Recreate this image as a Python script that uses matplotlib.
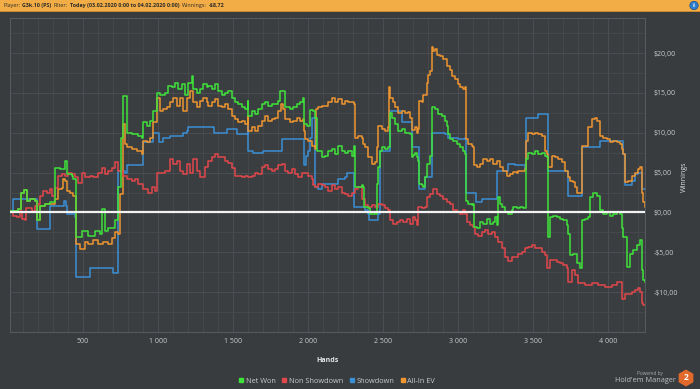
import matplotlib
matplotlib.use("Agg")
import matplotlib.pyplot as plt
from matplotlib import font_manager
from matplotlib.patches import Rectangle, Circle, RegularPolygon
from matplotlib.lines import Line2D
from matplotlib.ticker import MultipleLocator, FuncFormatter

plt.rcParams['font.family'] = ['Open Sans', 'DejaVu Sans']

# ---- data (hand number, cumulative winnings in $) ----
net_won_x = [13, 69, 87, 109, 124, 147, 180, 196, 213, 247, 280, 313, 347, 380, 391, 424, 436, 451, 491, 536,
             580, 613, 624, 647, 669, 691, 713, 736, 753, 769, 791, 824, 869, 891, 902, 924, 947, 969, 991, 1013,
             1047, 1069, 1091, 1113, 1136, 1158, 1180, 1202, 1224, 1236, 1258, 1280, 1302, 1324, 1336, 1358, 1380,
             1402, 1424, 1447, 1469, 1491, 1513, 1536, 1558, 1580, 1598, 1602, 1624, 1647, 1669, 1691, 1713, 1736,
             1758, 1802, 1813, 1847, 1880, 1902, 1924, 1947, 1969, 1976, 1991, 2013, 2036, 2047, 2058, 2091, 2113,
             2136, 2158, 2180, 2202, 2224, 2247, 2269, 2291, 2309, 2313, 2358, 2369, 2376, 2402, 2413, 2458, 2469,
             2480, 2491, 2513, 2536, 2547, 2558, 2580, 2602, 2624, 2647, 2669, 2680, 2691, 2702, 2713, 2724, 2736,
             2740, 2758, 2769, 2780, 2791, 2813, 2824, 2847, 2869, 2891, 2913, 2924, 2936, 2947, 2969, 2991, 3013,
             3036, 3047, 3051, 3069, 3091, 3102, 3109, 3124, 3147, 3169, 3191, 3213, 3236, 3247, 3258, 3264, 3280,
             3291, 3313, 3336, 3358, 3369, 3391, 3413, 3436, 3451, 3469, 3491, 3513, 3536, 3558, 3580, 3591, 3598,
             3613, 3636, 3658, 3680, 3702, 3724, 3736, 3747, 3769, 3791, 3813, 3824, 3847, 3869, 3880, 3902, 3924,
             3947, 3969, 3991, 4013, 4036, 4058, 4080, 4091, 4102, 4124, 4147, 4169, 4191, 4213, 4224, 4236, 4247]
net_won_y = [0.2, 0.4, 2.5, 2.8, 1.5, 1.7, 1.5, -1.0, 0.8, 1.0, 1.25, 5.6, 5.4, 6.5, 4.8, 4.6, 4.2, -3.1, -2.3, -2.9,
             -2.3, -2.7, 0.4, -2.3, -2.0, -1.9, -1.0, 3.2, 9.4, 14.6, 10.0, 9.8, 9.6, 9.4, 11.3, 10.9, 11.5, 12.75, 15.0, 14.8,
             15.0, 15.9, 15.7, 16.3, 15.5, 16.1, 14.8, 16.3, 17.1, 15.5, 15.0, 15.5, 16.1, 15.7, 15.9, 15.5, 16.1,
             15.25, 14.8, 15.0, 15.25, 14.4, 13.8, 13.6, 13.2, 13.0, 14.0, 12.1, 12.75, 12.3, 13.0, 13.6, 13.8, 13.4,
             13.6, 14.0, 15.25, 13.2, 13.0, 13.2, 13.6, 13.8, 14.4, 11.1, 10.9, 12.9, 12.75, 11.9, 7.75, 6.9, 7.1,
             7.75, 8.0, 7.3, 8.4, 7.75, 7.5, 7.75, 7.1, 8.4, 3.2, 3.4, 3.2, 0.7, 0.5, -0.2, 3.6, 5.7,
             7.75, 8.2, 8.0, 8.2, 12.5, 11.9, 11.1, 10.25, 10.5, 10.0, 10.0, 9.8, 7.0, 7.2, 7.5, 6.9, 6.5,
             3.6, 3.4, 3.2, 4.4, 6.1, 7.1, 13.2, 13.0, 12.3, 12.1, 11.5, 10.9, 9.8, 9.2, 9.0, 8.6, 8.2,
             7.75, 7.3, 1.5, 1.1, 0.9, 1.1, -1.8, -2.0, -1.2, -1.4, -0.8, -1.4, -1.2, -0.6, -1.6, 1.9, 1.1,
             0.7, 0.1, -0.2, 0.25, 0.7, 0.5, 0.7, 0.5, 6.7, 7.5, 7.3, 7.75, 7.3, 7.5, 7.1, 6.9, -3.1,
             -0.6, -0.4, -0.6, -0.8, -1.0, -1.6, -2.7, -5.4, -5.2, -6.4, -7.0, -1.0, -0.8, -0.6, 1.9, 2.5, 2.1,
             0.25, -0.2, 0.0, -0.4, -0.2, 0.0, -0.2, -2.0, -3.1, -6.8, -5.2, -4.75, -4.1, -3.5, -7.25, -8.5, -8.7]

non_showdown_x = [13, 36, 58, 80, 91, 113, 118, 158, 180, 202, 213, 236, 258, 280, 291, 313, 336, 358, 380, 402,
                  424, 447, 469, 491, 513, 547, 569, 602, 624, 647, 669, 691, 713, 736, 769, 791, 824, 847, 869,
                  902, 936, 958, 980, 991, 1047, 1080, 1102, 1124, 1147, 1169, 1191, 1213, 1236, 1258, 1280, 1313,
                  1336, 1358, 1380, 1402, 1424, 1447, 1469, 1491, 1513, 1558, 1580, 1602, 1624, 1647, 1669, 1691,
                  1713, 1736, 1758, 1780, 1802, 1824, 1847, 1869, 1891, 1913, 1936, 1958, 1980, 2002, 2024, 2036,
                  2047, 2069, 2091, 2113, 2136, 2158, 2180, 2202, 2224, 2247, 2269, 2291, 2313, 2336, 2358, 2380,
                  2402, 2424, 2447, 2469, 2491, 2513, 2536, 2547, 2569, 2591, 2613, 2636, 2658, 2680, 2702, 2713,
                  2724, 2736, 2758, 2780, 2791, 2813, 2836, 2858, 2880, 2902, 2924, 2947, 2969, 2991, 3013, 3036,
                  3047, 3058, 3080, 3102, 3113, 3136, 3158, 3180, 3202, 3224, 3247, 3269, 3291, 3313, 3336, 3358,
                  3402, 3424, 3447, 3469, 3491, 3513, 3558, 3580, 3591, 3613, 3658, 3680, 3702, 3724, 3736, 3758,
                  3780, 3802, 3847, 3891, 3936, 3980, 4024, 4058, 4091, 4113, 4158, 4180, 4202, 4213, 4224, 4236, 4247]
non_showdown_y = [0.0, -0.4, -0.6, 0.2, -0.8, -1.0, 0.6, 0.2, 0.8, 1.0, 2.1, 2.7, 2.5, 2.9, 2.1, 3.1, 4.6, 4.8, 4.6, 5.0,
                  4.8, 4.4, 3.75, 5.0, 4.4, 4.6, 4.4, 5.0, 5.6, 4.8, 5.2, 5.6, 6.3, 5.25, 4.6, 4.2, 4.0, 4.2, 3.6,
                  3.0, 2.5, 3.2, 2.75, 5.0, 5.25, 6.7, 6.1, 6.5, 5.25, 4.8, 6.1, 5.0, 6.7, 5.25, 4.4, 5.7,
                  6.5, 6.9, 7.3, 7.0, 6.9, 6.5, 6.2, 5.6, 4.6, 4.4, 4.6, 4.4, 4.6, 5.0, 4.8, 5.7,
                  5.9, 5.5, 5.25, 5.5, 5.9, 6.1, 5.25, 5.0, 5.5, 4.8, 4.4, 5.0, 5.0, 4.6, 4.2, 3.4,
                  3.2, 3.6, 3.4, 3.2, 2.75, 3.4, 3.0, 3.2, 2.5, 2.3, 2.1, 2.5, 3.0, 3.2, 1.7, 0.9,
                  0.7, 0.9, 0.7, 1.1, 0.9, 0.5, 0.25, -1.0, -1.4, -1.2, -1.0, -1.2, -0.8, -1.4, -0.6, -1.0,
                  -1.6, 0.7, 0.5, 0.7, 1.9, 2.3, 2.95, 2.3, 2.1, 1.7, 1.3, 1.1, 0.25, 0.0, -0.2, 0.25,
                  -0.2, -1.2, -1.6, -1.8, -2.7, -2.9, -2.5, -2.25, -2.7, -2.5, -3.1, -3.7, -4.5, -5.6, -6.1, -5.6,
                  -5.2, -5.0, -4.5, -4.3, -4.1, -4.5, -5.0, -5.4, -7.0, -6.0, -6.2, -6.4, -6.6, -7.0, -8.7, -7.25,
                  -7.9, -8.9, -9.1, -8.9, -9.1, -9.3, -9.1, -8.7, -10.8, -10.2, -10.0, -9.75, -9.5, -10.0, -11.4, -11.6, -11.6]

showdown_x = [13, 36, 196, 280, 376, 384, 391, 447, 451, 547, 660, 700, 736, 780, 791, 902, 969, 1007, 1036, 1080,
              1169, 1191, 1202, 1370, 1458, 1524, 1598, 1602, 1636, 1702, 1824, 1976, 1985, 2002, 2013, 2024, 2047,
              2069, 2091, 2202, 2247, 2258, 2309, 2380, 2402, 2407, 2464, 2480, 2547, 2624, 2691, 2740, 2780, 2824,
              2913, 2936, 3002, 3047, 3051, 3118, 3158, 3258, 3336, 3380, 3447, 3451, 3536, 3602, 3736, 3824, 3947,
              4102, 4113, 4158, 4180, 4202, 4224, 4247]
showdown_y = [0.2, 1.7, -2.1, 0.8, 1.5, 0.8, -0.2, -0.6, -8.1, -7.0, -7.0, -7.6, 5.25, 5.0, 5.9, 8.8, 10.0, 8.8, 9.4, 9.6,
              10.0, 10.25, 10.7, 10.0, 10.5, 9.8, 10.9, 7.75, 7.5, 7.75, 9.2, 5.9, 7.1, 7.75, 9.4, 11.9, 3.2,
              3.0, 3.6, 4.2, 4.4, 5.0, 0.7, 0.25, -0.2, -1.0, -0.2, 7.75, 12.75, 11.3, 8.2, 3.0, 4.4, 10.0,
              9.8, 9.4, 9.2, 9.4, 2.5, 1.3, 1.7, 5.25, 6.1, 5.9, 5.5, 11.9, 12.3, 5.25, 2.1, 8.2, 9.0,
              7.3, 3.4, 4.0, 4.8, 5.0, 3.0, 3.0]

all_in_ev_x = [13, 69, 87, 109, 124, 147, 180, 196, 213, 247, 280, 313, 336, 358, 369, 380, 391, 413, 436, 451,
               480, 513, 536, 569, 602, 636, 669, 691, 713, 736, 747, 769, 780, 791, 824, 858, 891, 902, 924, 947,
               969, 991, 1013, 1036, 1058, 1080, 1102, 1124, 1147, 1169, 1191, 1213, 1236, 1258, 1280, 1302, 1324,
               1336, 1358, 1380, 1402, 1424, 1447, 1469, 1491, 1513, 1536, 1558, 1580, 1598, 1602, 1624, 1647, 1669,
               1691, 1713, 1736, 1758, 1780, 1802, 1820, 1836, 1847, 1880, 1902, 1924, 1947, 1969, 1976, 1980, 2002,
               2024, 2047, 2055, 2069, 2091, 2136, 2158, 2180, 2202, 2224, 2247, 2269, 2309, 2313, 2336, 2358, 2369,
               2380, 2402, 2424, 2447, 2458, 2469, 2491, 2513, 2536, 2540, 2547, 2569, 2580, 2602, 2624, 2647, 2669,
               2680, 2691, 2713, 2724, 2736, 2740, 2758, 2769, 2791, 2802, 2813, 2824, 2836, 2847, 2858, 2880, 2902,
               2924, 2947, 2958, 2980, 3002, 3013, 3036, 3047, 3051, 3069, 3091, 3102, 3109, 3124, 3147, 3169, 3191,
               3213, 3236, 3258, 3280, 3302, 3324, 3347, 3369, 3391, 3402, 3447, 3451, 3469, 3491, 3513, 3536, 3558,
               3580, 3591, 3602, 3624, 3647, 3669, 3691, 3713, 3736, 3747, 3769, 3780, 3791, 3824, 3869, 3891, 3913,
               3924, 3947, 3969, 3991, 4013, 4036, 4058, 4080, 4091, 4102, 4113, 4136, 4158, 4180, 4202, 4213, 4224,
               4236, 4247]
all_in_ev_y = [0.2, 0.4, 2.5, 2.8, 1.5, 1.7, 1.5, -1.0, 0.8, 1.0, 1.0, 1.7, 2.9, 3.1, 4.2, 4.0, 2.7, 2.5, 2.1, -4.0,
               -4.6, -3.75, -4.0, -3.5, -4.0, -3.75, -4.0, -3.2, -2.5, -2.7, 2.3, 11.1, 8.6, 8.2, 8.0, 7.75, 7.3, 9.0, 8.8, 9.4,
               11.3, 14.4, 12.75, 13.0, 13.2, 13.8, 14.4, 13.4, 14.4, 12.75, 14.4, 15.25, 13.8, 13.2, 14.0, 14.4, 13.8,
               13.4, 13.8, 14.2, 13.4, 13.2, 13.6, 13.0, 12.1, 11.7, 11.3, 11.5, 11.1, 12.1, 10.25, 10.7, 10.25, 10.9,
               11.5, 12.1, 11.5, 11.7, 11.9, 12.75, 13.6, 13.0, 11.7, 11.3, 11.5, 11.9, 11.5, 11.7, 10.25, 9.2, 9.0,
               8.4, 7.9, 13.0, 13.2, 13.4, 13.8, 14.4, 13.8, 14.2, 13.6, 14.0, 13.8, 13.6, 9.4, 9.6, 9.4, 8.6,
               8.2, 6.9, 6.1, 6.3, 8.2, 10.9, 10.5, 10.25, 10.7, 15.7, 14.4, 13.8, 13.2, 12.5, 12.75, 12.5, 12.6,
               11.9, 10.4, 10.7, 10.0, 10.5, 14.0, 13.8, 14.8, 16.3, 17.3, 17.75, 20.7, 20.25, 20.5, 19.8, 19.6, 19.2,
               18.4, 17.9, 17.1, 16.7, 16.1, 15.7, 15.5, 15.7, 9.2, 8.6, 8.4, 8.2, 5.9, 5.7, 6.1, 6.7, 6.5,
               6.7, 6.1, 6.5, 5.7, 5.25, 4.6, 4.8, 5.1, 5.0, 5.25, 5.5, 9.0, 10.0, 9.8, 10.0, 9.8, 9.6,
               7.75, 7.3, 5.7, 7.1, 6.9, 6.7, 6.3, 5.25, 4.4, 4.0, 3.8, 3.2, 2.5, 8.4, 10.7, 11.7, 11.9,
               11.5, 9.6, 9.4, 9.2, 8.8, 9.0, 8.8, 8.6, 8.0, 7.3, 3.8, 4.0, 4.6, 5.0, 5.5, 5.7, 2.5,
               1.3, 0.7]

series = [
    ("Net Won", net_won_x, net_won_y, "#3fe23a"),
    ("Non Showdown", non_showdown_x, non_showdown_y, "#e2474a"),
    ("Showdown", showdown_x, showdown_y, "#3b8fd4"),
    ("All-In EV", all_in_ev_x, all_in_ev_y, "#ef952f"),
]
x_ticks = [500, 1000, 1500, 2000, 2500, 3000, 3500, 4000]
y_ticks = [-10, -5, 0, 5, 10, 15, 20]

BG = "#383c3f"
GRID = "#464a4e"
TXT = "#c9cbcd"
W, H = 700, 389

fig = plt.figure(figsize=(7.0, 3.89), dpi=100, facecolor=BG)

# header bar
fig.add_artist(Rectangle((0, 1 - 11 / H), 1, 11 / H, transform=fig.transFigure,
                         facecolor="#f3ad46", edgecolor="none"))
fig.add_artist(Rectangle((0, 1 - 12 / H), 1, 1 / H, transform=fig.transFigure,
                         facecolor="#c98a30", edgecolor="none"))
fig.add_artist(Circle((6.94, (H - 5.5) / 100), 0.042, transform=fig.dpi_scale_trans,
                      facecolor="#2f7fcf", edgecolor="#1c4f8a", lw=0.5))
fig.text(6.94 / 7.0, (H - 5.5) / H, "i", fontsize=4.5, color="white", fontweight="bold",
         ha="center", va="center")

ax = fig.add_axes([10 / W, 1 - 332 / H, 635 / W, 314 / H], facecolor="#3a3e41")

for label, xs, ys, col in [series[2], series[3], series[1], series[0]]:
    ax.plot(xs, ys, drawstyle="steps-post", color=col, lw=1.1, label=label, zorder=3)

ax.axhline(0, color="#f2f2f2", lw=1.6, zorder=5)

ax.set_xlim(13, 4247)
ax.set_ylim(-15, 24.4)
ax.xaxis.set_major_locator(MultipleLocator(500))
ax.xaxis.set_minor_locator(MultipleLocator(100))
ax.yaxis.set_major_locator(MultipleLocator(5))
ax.yaxis.set_minor_locator(MultipleLocator(2.5))
ax.set_xticks(x_ticks)
ax.set_yticks(y_ticks)
ax.grid(True, which="major", color="#4b4f53", lw=0.7, zorder=0)
ax.grid(True, which="minor", color=GRID, lw=0.6, zorder=0)
ax.set_axisbelow(True)

ax.xaxis.set_major_formatter(FuncFormatter(lambda v, p: f"{int(v):,}".replace(",", " ")))


def money(v, p):
    s = f"{abs(v):.2f}".replace(".", ",")
    return ("-\\$" if v < 0 else "\\$") + s


ax.yaxis.set_major_formatter(FuncFormatter(money))
ax.yaxis.tick_right()
ax.tick_params(axis="both", which="both", length=0, colors=TXT, labelsize=5)
ax.tick_params(axis="x", pad=4)
ax.tick_params(axis="y", pad=6)
for sp in ax.spines.values():
    sp.set_color("#575b5f")
    sp.set_linewidth(0.7)

ax.set_xlabel("Hands", color="#e6e6e6", fontsize=5, fontweight="bold", labelpad=9)
fig.text(684 / W, 1 - 177 / H, "Winnings", rotation=90, color="#dcdcdc", fontsize=5,
         ha="center", va="center")

# legend
handles = [Line2D([], [], ls="none", marker="s", markersize=3, color=c) for _, _, _, c in series]
fig.legend(handles, [s[0] for s in series], loc="center", bbox_to_anchor=(337 / W, 1 - 381 / H),
           ncol=4, frameon=False, fontsize=5.3, labelcolor=TXT, handlelength=0.6,
           handletextpad=0.3, columnspacing=0.9, borderpad=0)

# branding
fig.text(650 / W, 1 - 373 / H, "Powered by", fontsize=3.4, color="#a8aaac", ha="center", va="center")
fig.text(676 / W, 1 - 380 / H, "Hold'em Manager", fontsize=5.2, color="#bfc1c3", ha="right", va="center")
fig.add_artist(RegularPolygon((6.86, (H - 378) / 100), 6, radius=0.085, orientation=0,
                              transform=fig.dpi_scale_trans, facecolor="#e0692b", edgecolor="none"))
fig.text(686 / W, 1 - 378 / H, "2", fontsize=6, color="white", fontweight="bold", ha="center", va="center")

# header text, pieces placed one after another
names = {f.name for f in font_manager.fontManager.ttflist}
if "Liberation Sans Narrow" in names:
    head_family, head_size = ["Liberation Sans Narrow", "DejaVu Sans"], 5.0
else:
    head_family, head_size = ["Open Sans", "DejaVu Sans"], 3.9

fig.canvas.draw()
rend = fig.canvas.get_renderer()
pieces = [("Player:", False), ("G3k.10 (PS)", True), ("Filter:", False),
          ("Today (03.02.2020 0:00 to 04.02.2020 0:00)", True), ("Winnings:", False), ("-\\$8,72", True)]
xpos = 3 / W
for txt, bold in pieces:
    t = fig.text(xpos, 1 - 5.8 / H, txt, fontsize=head_size, color="#2b2b2b", family=head_family,
                 fontweight="bold" if bold else "normal", va="center", ha="left")
    xpos += t.get_window_extent(rend).width / W + 2.2 / W

fig.savefig("out.png", dpi=100, facecolor=BG)
